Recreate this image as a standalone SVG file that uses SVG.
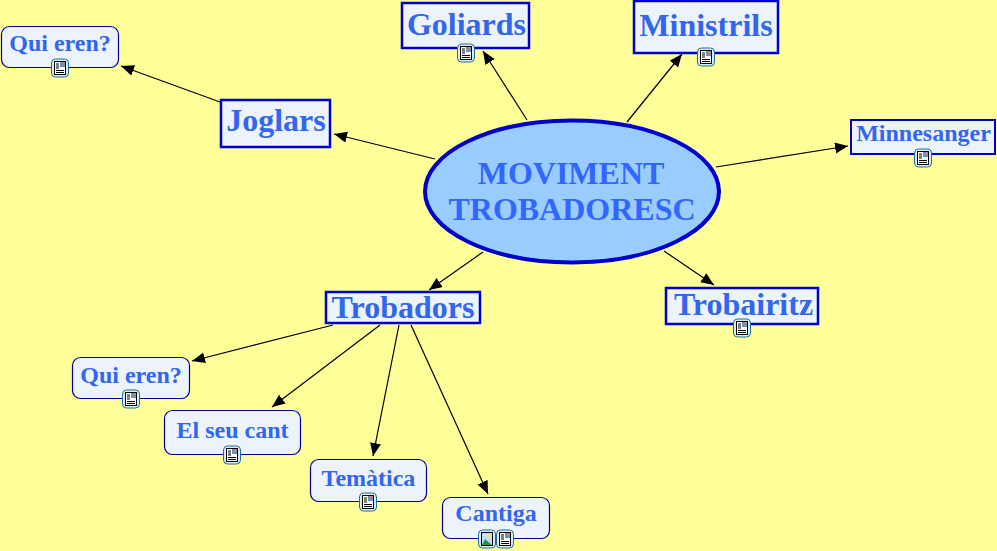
<svg xmlns="http://www.w3.org/2000/svg" width="997" height="551" viewBox="0 0 997 551">
<style>
.n{fill:#ecf3fa;stroke:#0000cc;stroke-width:2.5}
.r{fill:#ecf3fa;stroke:#000099;stroke-width:1.2}
text{font-family:"Liberation Serif","Times New Roman",serif;font-weight:bold;fill:#3366ee;text-anchor:middle}
.c line{stroke:#000;stroke-width:1.2;marker-end:url(#a)}
</style>
<defs>
<marker id="a" markerUnits="userSpaceOnUse" markerWidth="14" markerHeight="12" refX="13" refY="5.5" orient="auto"><path d="M0 0L13 5.5L0 11Z" fill="#000"/></marker>
<symbol id="doc" overflow="visible"><rect x="-8.500" y="-9" width="17" height="18" rx="4" fill="#d8ecfa" stroke="#1f6f96" stroke-width="1"/><rect x="-5.500" y="-6.500" width="11" height="13" fill="#fff" stroke="#000" stroke-width="1"/><path d="M-4-4H-1M-4-2H-1M-4 0H-1M-4 2.500H4M-4 4.500H4" stroke="#000" stroke-width="1"/><rect x="0" y="-6" width="5" height="5" fill="#6f93b5"/><rect x="2.500" y="-6" width="2.500" height="2.500" fill="#d08080"/></symbol>
<symbol id="img" overflow="visible"><rect x="-8.500" y="-9" width="17" height="18" rx="4" fill="#d8ecfa" stroke="#1f6f96" stroke-width="1"/><rect x="-5.500" y="-6.500" width="11" height="13" fill="#bfe0f5" stroke="#000" stroke-width="1"/><path d="M-5 6L-2 0L5 6Z" fill="#2f8f4f"/><circle cx="2" cy="-3" r="2" fill="#f5e080"/></symbol>
</defs>
<rect width="997" height="551" fill="#ffff99"/>
<g class="c" id="connectors">
<line x1="220" y1="102" x2="121" y2="66"/>
<line x1="435" y1="159" x2="334" y2="134"/>
<line x1="527" y1="120" x2="483" y2="51"/>
<line x1="627" y1="122" x2="682" y2="54"/>
<line x1="716" y1="167" x2="848" y2="146"/>
<line x1="664" y1="251" x2="714" y2="285"/>
<line x1="483" y1="252" x2="429" y2="290"/>
<line x1="333" y1="325" x2="192" y2="361"/>
<line x1="380" y1="325" x2="272" y2="407"/>
<line x1="399" y1="325" x2="373" y2="456"/>
<line x1="411" y1="325" x2="488" y2="494"/>
</g>
<g id="centre"><ellipse cx="572" cy="191.500" rx="147" ry="71" fill="#99ccff" stroke="#0000cc" stroke-width="4"/><text x="571" y="184" font-size="32" style="fill:#3366ff">MOVIMENT</text><text x="572" y="220" font-size="32" style="fill:#3366ff">TROBADORESC</text></g>
<g id="quieren1"><rect class="r" x="1.500" y="26.500" width="117" height="41" rx="8"/><text x="60" y="51" font-size="24">Qui eren?</text><use href="#doc" x="60" y="68"/></g>
<g id="joglars"><rect class="n" x="221" y="100" width="109" height="47"/><text x="276" y="131" font-size="32">Joglars</text></g>
<g id="goliards"><rect class="n" x="402" y="3" width="127" height="45"/><text x="466.500" y="35" font-size="32">Goliards</text><use href="#doc" x="466" y="53"/></g>
<g id="ministrils"><rect class="n" x="634" y="1" width="144" height="52"/><text x="706" y="36" font-size="32">Ministrils</text><use href="#doc" x="706" y="57"/></g>
<g id="minnesanger"><rect class="n" x="851" y="120" width="144" height="34" style="stroke-width:2"/><text x="923.500" y="141" font-size="24">Minnesanger</text><use href="#doc" x="923" y="158"/></g>
<g id="trobairitz"><rect class="n" x="666" y="288" width="152" height="36"/><text x="743.500" y="315" font-size="32">Trobairitz</text><use href="#doc" x="742" y="328"/></g>
<g id="trobadors"><rect class="n" x="326" y="292" width="154" height="31"/><text x="403" y="318" font-size="32">Trobadors</text></g>
<g id="quieren2"><rect class="r" x="72.500" y="357.500" width="117" height="41" rx="8"/><text x="131" y="383" font-size="24">Qui eren?</text><use href="#doc" x="131" y="399"/></g>
<g id="elseucant"><rect class="r" x="164.500" y="410.500" width="136" height="44" rx="8"/><text x="232.500" y="438" font-size="24">El seu cant</text><use href="#doc" x="232" y="455"/></g>
<g id="tematica"><rect class="r" x="310.500" y="459.500" width="116" height="42" rx="8"/><text x="368.500" y="486" font-size="24">Temàtica</text><use href="#doc" x="368" y="502"/></g>
<g id="cantiga"><rect class="r" x="442.500" y="497.500" width="107" height="41" rx="8"/><text x="496" y="521" font-size="24">Cantiga</text><use href="#img" x="487" y="539"/><use href="#doc" x="505" y="539"/></g>
</svg>
